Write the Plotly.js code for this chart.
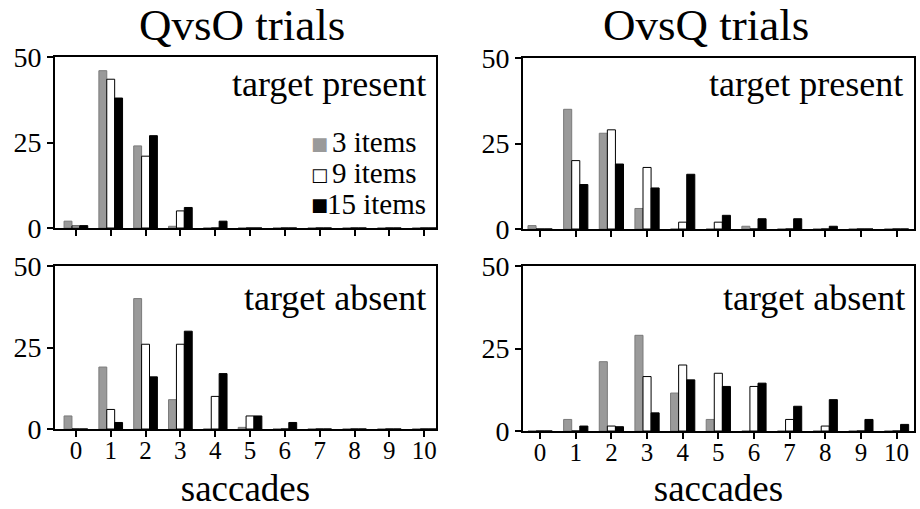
<!DOCTYPE html>
<html>
<head>
<meta charset="utf-8">
<script src="https://cdn.plot.ly/plotly-3.0.1.min.js"></script>
<style>html,body{margin:0;padding:0;background:#fff;}#chart{width:920px;height:509px;}</style>
</head>
<body>
<div id="chart"></div>
<script>
// ---- data ----
const saccades = [0, 1, 2, 3, 4, 5, 6, 7, 8, 9, 10];
const seriesNames = ["3 items", "9 items", "15 items"];
const panelTitles = ["QvsO trials", "OvsQ trials"];
const conditionLabels = ["target present", "target absent"];
const yTickValues = [0, 25, 50];

const qvsoPresent3  = [2, 46, 24, 0.5, 0, 0, 0, 0, 0, 0, 0];
const qvsoPresent9  = [0.6, 43.5, 21, 5, 0, 0, 0, 0, 0, 0, 0];
const qvsoPresent15 = [0.7, 38, 27, 6, 2, 0, 0, 0, 0, 0, 0];

const ovsqPresent3  = [1, 35, 28, 6, 0, 0, 0.8, 0, 0, 0, 0];
const ovsqPresent9  = [0, 20, 29, 18, 2, 2, 0, 0, 0, 0, 0];
const ovsqPresent15 = [0, 13, 19, 12, 16, 4, 3, 3, 0.8, 0, 0];

const qvsoAbsent3  = [4, 19, 40, 9, 0, 0.5, 0, 0, 0, 0, 0];
const qvsoAbsent9  = [0, 6, 26, 26, 10, 4, 0, 0, 0, 0, 0];
const qvsoAbsent15 = [0, 2, 16, 30, 17, 4, 2, 0, 0, 0, 0];

const ovsqAbsent3  = [0, 3.5, 21, 29, 11.5, 3.5, 0, 0, 0, 0, 0];
const ovsqAbsent9  = [0, 0, 1.5, 16.5, 20, 17.5, 13.5, 3.5, 1.5, 0, 0];
const ovsqAbsent15 = [0, 1.5, 1.3, 5.5, 15.5, 13.5, 14.5, 7.5, 9.5, 3.5, 2];

// ---- styling ----
const W = 920, H = 509;
const FONT = "'Liberation Serif', 'Times New Roman', serif";
const fills = ["#9a9a9a", "#ffffff", "#000000"];
const edges = ["#7a7a7a", "#000000", "#000000"];

function px(a) { return a / W; }
function py(a) { return 1 - a / H; }

const panels = [
  {ax: "", data: [qvsoPresent3, qvsoPresent9, qvsoPresent15]},
  {ax: "2", data: [ovsqPresent3, ovsqPresent9, ovsqPresent15]},
  {ax: "3", data: [qvsoAbsent3, qvsoAbsent9, qvsoAbsent15]},
  {ax: "4", data: [ovsqAbsent3, ovsqAbsent9, ovsqAbsent15]}
];

const traces = [];
panels.forEach(p => {
  p.data.forEach((vals, i) => {
    traces.push({
      type: "bar",
      x: saccades,
      y: vals,
      name: seriesNames[i],
      legendgroup: seriesNames[i],
      showlegend: false,
      xaxis: "x" + p.ax,
      yaxis: "y" + p.ax,
      marker: {color: fills[i], line: {color: edges[i], width: 1}}
    });
  });
});

// panel boxes in pixels: [left, right, top, bottom]
const boxes = [
  [55, 436, 57, 228],
  [523, 914, 58, 229],
  [55, 436, 266, 429],
  [523, 914, 266, 431]
];
const xRanges = [[-0.6, 10.34], [-0.48, 10.49], [-0.6, 10.34], [-0.48, 10.49]];

const layout = {
  width: W, height: H,
  margin: {l: 0, r: 0, t: 0, b: 0},
  paper_bgcolor: "#fff",
  plot_bgcolor: "#fff",
  barmode: "group",
  bargap: 0.32,
  bargroupgap: 0,
  showlegend: false,
  font: {family: FONT, color: "#000"},
  annotations: []
};

boxes.forEach((b, k) => {
  const s = k === 0 ? "" : String(k + 1);
  const bottomRow = k >= 2;
  layout["xaxis" + s] = {
    domain: [px(b[0]), px(b[1])],
    anchor: "y" + s,
    range: xRanges[k],
    tickmode: "array",
    tickvals: saccades,
    ticktext: saccades.map(String),
    showticklabels: bottomRow,
    ticks: "outside", ticklen: 6, tickwidth: 2, tickcolor: "#000",
    ticklabelstandoff: -8,
    showline: true, linewidth: 2, linecolor: "#000", mirror: true,
    showgrid: false, zeroline: false,
    tickfont: {family: FONT, size: 25, color: "#000"},
    fixedrange: true,
    title: bottomRow ? {text: "saccades", font: {family: FONT, size: 37, color: "#000"}, standoff: 12} : {text: ""}
  };
  layout["yaxis" + s] = {
    domain: [py(b[3]), py(b[2])],
    anchor: "x" + s,
    range: [0, 50],
    tickmode: "array",
    tickvals: yTickValues,
    ticktext: yTickValues.map(String),
    ticks: "outside", ticklen: 6, tickwidth: 2, tickcolor: "#000",
    showline: true, linewidth: 2, linecolor: "#000", mirror: true,
    showgrid: false, zeroline: false,
    tickfont: {family: FONT, size: 28, color: "#000"},
    fixedrange: true
  };
});

// column titles
[[242, panelTitles[0]], [706, panelTitles[1]]].forEach(t => {
  layout.annotations.push({
    xref: "paper", yref: "paper", x: px(t[0]), y: py(25),
    xanchor: "center", yanchor: "middle", showarrow: false,
    text: t[1], font: {family: FONT, size: 45, color: "#000"}
  });
});

// condition labels
[[428, 84, conditionLabels[0]], [905, 84, conditionLabels[0]],
 [428, 298, conditionLabels[1]], [907, 298, conditionLabels[1]]].forEach(t => {
  layout.annotations.push({
    xref: "paper", yref: "paper", x: px(t[0]), y: py(t[1]),
    xanchor: "right", yanchor: "middle", showarrow: false,
    text: t[2], font: {family: FONT, size: 36, color: "#000"}
  });
});

// legend (manual, to keep the compact line spacing of the original)
const legendRows = [142, 173, 204];
const legendSymbols = [
  '<span style="color:#9a9a9a">■</span>',
  '<span style="color:#000">□</span>',
  '<span style="color:#000">■</span>'
];
seriesNames.forEach((n, i) => {
  layout.annotations.push({
    xref: "paper", yref: "paper", x: px(319), y: py(legendRows[i] + 1),
    xanchor: "center", yanchor: "middle", showarrow: false,
    text: legendSymbols[i], font: {family: "DejaVu Sans", size: 18, color: "#000"}
  });
  layout.annotations.push({
    xref: "paper", yref: "paper", x: px(i === 2 ? 325 : 330), y: py(legendRows[i]),
    xanchor: "left", yanchor: "middle", showarrow: false,
    text: n, font: {family: FONT, size: 29, color: "#000"}
  });
});

Plotly.newPlot("chart", traces, layout, {staticPlot: true, displayModeBar: false});
</script>
</body>
</html>
